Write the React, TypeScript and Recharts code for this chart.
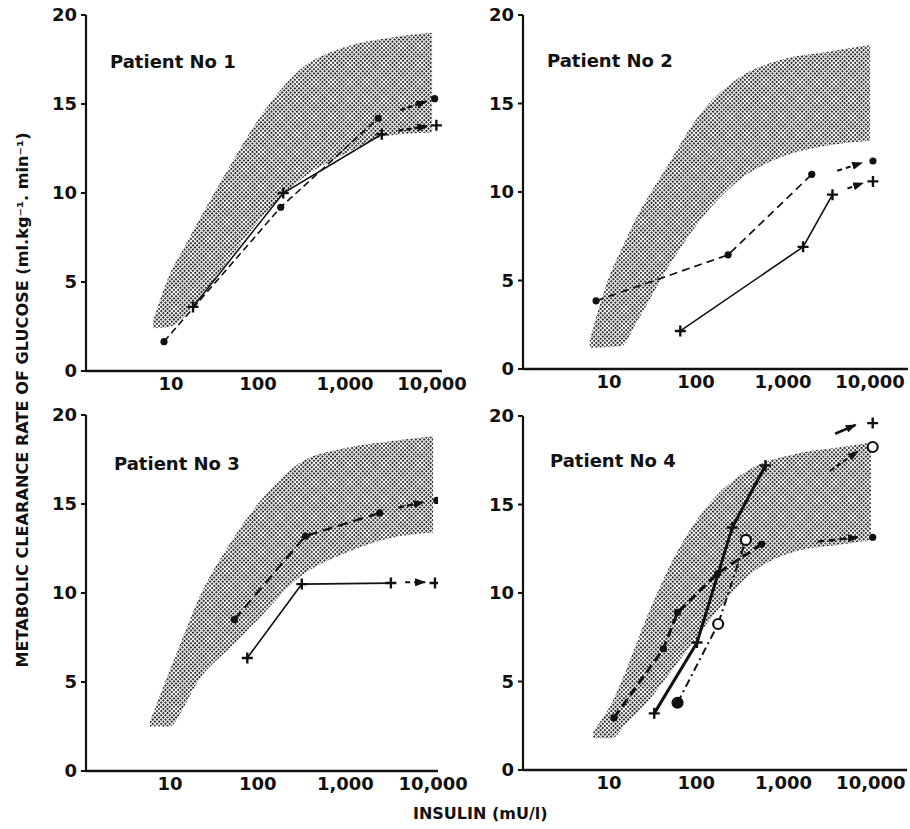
import { ComposedChart, Area, Line, XAxis, YAxis } from 'recharts';

// axis ticks
const xTicks = [10, 100, 1000, 10000];
const xTickLabels = ['10', '100', '1,000', '10,000'];
const yTicks = [0, 5, 10, 15, 20];

// normal range band (insulin, lower, upper) per panel
const band1X = [6.2, 10, 14, 20, 50, 100, 300, 1000, 3000, 10000];
const band1Lo = [2.4, 2.5, 3.0, 3.9, 6.5, 8.4, 10.7, 12.2, 13.2, 13.4];
const band1Hi = [2.8, 5.6, 6.9, 8.3, 11.7, 14.1, 16.9, 18.2, 18.7, 19.0];

const band2X = [6, 10, 14, 20, 50, 100, 300, 1000, 3000, 10000];
const band2Lo = [1.2, 1.25, 1.3, 2.5, 5.9, 8.1, 10.6, 12.0, 12.6, 12.9];
const band2Hi = [1.6, 5.2, 6.8, 8.4, 11.7, 14.1, 16.4, 17.5, 17.9, 18.3];

const band3X = [5.9, 10, 14, 20, 50, 100, 300, 1000, 3000, 10000];
const band3Lo = [2.5, 2.5, 3.5, 4.9, 7.0, 8.5, 10.9, 12.25, 13.05, 13.4];
const band3Hi = [2.8, 5.7, 7.5, 9.4, 12.9, 15.0, 17.3, 18.15, 18.5, 18.8];

const band4X = [6.6, 11, 15, 25, 60, 150, 400, 1500, 4000, 10000];
const band4Lo = [1.8, 1.8, 2.5, 3.6, 6.0, 8.6, 11.0, 12.4, 12.7, 13.0];
const band4Hi = [2.2, 3.9, 5.4, 8.2, 12.3, 15.2, 16.95, 17.9, 18.2, 18.5];

// Patient 1
const p1Dots = [[8.3, 1.65], [182, 9.2], [2400, 14.2]];
const p1DotsArrow = [[4300, 14.65], [8600, 15.15]];
const p1DotsEnd = [10700, 15.3];
const p1Plus = [[17.9, 3.6], [195, 10.0], [2640, 13.3]];
const p1PlusArrow = [[4100, 13.5], [8800, 13.75]];
const p1PlusEnd = [11200, 13.8];

// Patient 2
const p2Dots = [[7.1, 3.85], [234, 6.45], [2140, 11.0]];
const p2DotsArrow = [[4200, 11.2], [8100, 11.65]];
const p2DotsEnd = [10800, 11.75];
const p2Plus = [[66, 2.15], [1700, 6.9], [3700, 9.85]];
const p2PlusArrow = [[5500, 10.2], [8300, 10.5]];
const p2PlusEnd = [10800, 10.6];

// Patient 3
const p3Dots = [[54, 8.5], [350, 13.2], [2460, 14.5]];
const p3DotsArrow = [[4000, 14.8], [7800, 15.1]];
const p3DotsEnd = [11000, 15.2];
const p3Plus = [[76, 6.35], [318, 10.5], [3300, 10.56]];
const p3PlusArrow = [[4800, 10.6], [8100, 10.6]];
const p3PlusEnd = [10500, 10.56];

// Patient 4
const p4Dots = [[11.4, 2.94], [42, 6.85], [61, 8.9], [175, 11.1], [560, 12.75]];
const p4DotsArrow = [[2450, 12.9], [7100, 13.15]];
const p4DotsEnd = [10500, 13.15];
const p4Plus = [[33, 3.2], [102, 7.2], [258, 13.7], [620, 17.2]];
const p4PlusArrow = [[3900, 19.0], [6700, 19.5]];
const p4PlusEnd = [10500, 19.6];
const p4Circles = [[61, 3.8], [178, 8.25], [370, 13.0]];
const p4CirclesArrow = [[3400, 16.9], [7100, 18.0]];
const p4CirclesEnd = [10500, 18.25];

const INK = '#111';
const FONT = '"DejaVu Sans", Arial, sans-serif';

const toPts = (arr: number[][]) => arr.map(([x, y]) => ({ x, y }));
const bandRows = (xs: number[], lo: number[], hi: number[]) =>
  xs.map((x, i) => ({ x, range: [lo[i], hi[i]] }));

function makeDot(kind: string, firstFilled = false) {
  return (props: any) => {
    const { cx, cy, index } = props;
    const key = `${kind}-${index}`;
    if (cx == null || cy == null) return <g key={key} />;
    if (kind === 'plus') {
      return (
        <path key={key} d={`M${cx - 5.5},${cy}H${cx + 5.5}M${cx},${cy - 5.5}V${cy + 5.5}`}
          stroke={INK} strokeWidth={2.4} fill="none" />
      );
    }
    if (kind === 'circle') {
      const filled = firstFilled && index === 0;
      return <circle key={key} cx={cx} cy={cy} r={5} stroke={INK} strokeWidth={2.2} fill={filled ? INK : '#fff'} />;
    }
    return <circle key={key} cx={cx} cy={cy} r={3.6} fill={INK} stroke="none" />;
  };
}

type Series = {
  pts: number[][];
  arrow: number[][];
  end: number[];
  kind: string;
  width: number;
  dash?: string;
  arrowDash?: string;
  arrowWidth?: number;
};

type PanelProps = {
  left: number; top: number; width: number; height: number;
  yWidth: number; xHeight: number;
  margin: { top: number; right: number; left: number; bottom: number };
  domain: [number, number];
  band: any[];
  series: Series[];
};

const tickStyle = { fill: INK, fontSize: 18, fontWeight: 700, fontFamily: FONT };

function Panel({ left, top, width, height, yWidth, xHeight, margin, domain, band, series }: PanelProps) {
  return (
    <div style={{ position: 'absolute', left, top }}>
      <ComposedChart width={width} height={height} data={band} margin={margin}>
        <XAxis
          type="number" dataKey="x" scale="log" domain={domain} allowDataOverflow
          ticks={xTicks} interval={0} height={xHeight}
          tickFormatter={(v: number) => xTickLabels[xTicks.indexOf(v)] ?? ''}
          tickLine={false} tickSize={0} tickMargin={6}
          axisLine={{ stroke: INK, strokeWidth: 2.4 }} tick={tickStyle}
        />
        <YAxis
          type="number" domain={[0, 20]} ticks={yTicks} interval={0} width={yWidth}
          allowDataOverflow tickSize={5} tickMargin={4}
          axisLine={{ stroke: INK, strokeWidth: 2.2 }}
          tickLine={{ stroke: INK, strokeWidth: 2 }} tick={tickStyle}
        />
        <Area
          dataKey="range" type="monotone" stroke="none" fill="url(#stipple)" fillOpacity={1}
          isAnimationActive={false} activeDot={false} legendType="none"
        />
        {series.map((s, i) => (
          <Line
            key={`l${i}`} data={toPts(s.pts)} dataKey="y" type="linear"
            stroke={INK} strokeWidth={s.width} strokeDasharray={s.dash}
            dot={makeDot(s.kind, s.kind === 'circle')} activeDot={false}
            isAnimationActive={false} legendType="none"
          />
        ))}
        {series.map((s, i) => (
          <Line
            key={`a${i}`} data={toPts(s.arrow)} dataKey="y" type="linear"
            stroke={INK} strokeWidth={s.arrowWidth ?? 2} strokeDasharray={s.arrowDash}
            dot={false} activeDot={false} markerEnd="url(#arrowHead)"
            isAnimationActive={false} legendType="none"
          />
        ))}
        {series.map((s, i) => (
          <Line
            key={`e${i}`} data={toPts([s.end])} dataKey="y" type="linear"
            stroke="none" dot={makeDot(s.kind)} activeDot={false}
            isAnimationActive={false} legendType="none"
          />
        ))}
      </ComposedChart>
    </div>
  );
}

const panels: PanelProps[] = [
  {
    left: 0, top: 0, width: 480, height: 400, yWidth: 86, xHeight: 29,
    margin: { top: 15, right: 38, left: 0, bottom: 0 }, domain: [1.054, 13000],
    band: bandRows(band1X, band1Lo, band1Hi),
    series: [
      { pts: p1Dots, arrow: p1DotsArrow, end: p1DotsEnd, kind: 'dot', width: 1.6, dash: '7 4', arrowDash: '5 3', arrowWidth: 2.4 },
      { pts: p1Plus, arrow: p1PlusArrow, end: p1PlusEnd, kind: 'plus', width: 1.6, arrowDash: '5 3', arrowWidth: 2.4 },
    ],
  },
  {
    left: 450, top: 0, width: 460, height: 400, yWidth: 73, xHeight: 31,
    margin: { top: 15, right: 2, left: 0, bottom: 0 }, domain: [1.027, 27300],
    band: bandRows(band2X, band2Lo, band2Hi),
    series: [
      { pts: p2Dots, arrow: p2DotsArrow, end: p2DotsEnd, kind: 'dot', width: 1.7, dash: '8 5', arrowDash: '5 4' },
      { pts: p2Plus, arrow: p2PlusArrow, end: p2PlusEnd, kind: 'plus', width: 1.6, arrowDash: '5 4' },
    ],
  },
  {
    left: 0, top: 400, width: 480, height: 429, yWidth: 86, xHeight: 58,
    margin: { top: 15, right: 42, left: 0, bottom: 0 }, domain: [1.1, 11370],
    band: bandRows(band3X, band3Lo, band3Hi),
    series: [
      { pts: p3Dots, arrow: p3DotsArrow, end: p3DotsEnd, kind: 'dot', width: 2.2, dash: '10 6', arrowDash: '6 3', arrowWidth: 2.4 },
      { pts: p3Plus, arrow: p3PlusArrow, end: p3PlusEnd, kind: 'plus', width: 1.7, arrowDash: '5 4' },
    ],
  },
  {
    left: 450, top: 400, width: 460, height: 429, yWidth: 73, xHeight: 59,
    margin: { top: 16, right: 3, left: 0, bottom: 0 }, domain: [1.035, 25950],
    band: bandRows(band4X, band4Lo, band4Hi),
    series: [
      { pts: p4Dots, arrow: p4DotsArrow, end: p4DotsEnd, kind: 'dot', width: 3, dash: '9 5', arrowDash: '7 4', arrowWidth: 2.4 },
      { pts: p4Plus, arrow: p4PlusArrow, end: p4PlusEnd, kind: 'plus', width: 3, arrowWidth: 2.6 },
      { pts: p4Circles, arrow: p4CirclesArrow, end: p4CirclesEnd, kind: 'circle', width: 2, dash: '8 4 2 4', arrowDash: '5 3', arrowWidth: 2.2 },
    ],
  },
];

const patientLabels = [
  { text: 'Patient No 1', x: 110, y: 68 },
  { text: 'Patient No 2', x: 547, y: 67 },
  { text: 'Patient No 3', x: 114, y: 470 },
  { text: 'Patient No 4', x: 550, y: 467 },
];

export default function App() {
  return (
    <div style={{ position: 'absolute', left: 0, top: 0, width: 910, height: 829, background: '#fff' }}>
      {panels.map((p, i) => <Panel key={i} {...p} />)}
      <svg width={910} height={829} style={{ position: 'absolute', left: 0, top: 0, pointerEvents: 'none' }}>
        <defs>
          <pattern id="stipple" width="3" height="3" patternUnits="userSpaceOnUse" patternTransform="rotate(45)">
            <rect x="0" y="0" width="1.9" height="1.9" fill="#1a1a1a" />
          </pattern>
          <marker id="arrowHead" viewBox="0 0 11 8" refX="10" refY="4" markerWidth="11" markerHeight="8"
            markerUnits="userSpaceOnUse" orient="auto">
            <path d="M0,0 L11,4 L0,8 z" fill={INK} />
          </marker>
        </defs>
        {patientLabels.map((l) => (
          <text key={l.text} x={l.x} y={l.y} fontFamily={FONT} fontWeight={700} fontSize={18} fill={INK}>
            {l.text}
          </text>
        ))}
        <text
          transform="translate(28,400) rotate(-90)" textAnchor="middle"
          fontFamily={FONT} fontWeight={700} fontSize={15.5} fill={INK}
          textLength={535} lengthAdjust="spacingAndGlyphs"
        >
          METABOLIC CLEARANCE RATE OF GLUCOSE (ml.kg⁻¹. min⁻¹)
        </text>
        <text x={413} y={819} fontFamily={FONT} fontWeight={700} fontSize={16} fill={INK}>
          INSULIN (mU/l)
        </text>
      </svg>
    </div>
  );
}
